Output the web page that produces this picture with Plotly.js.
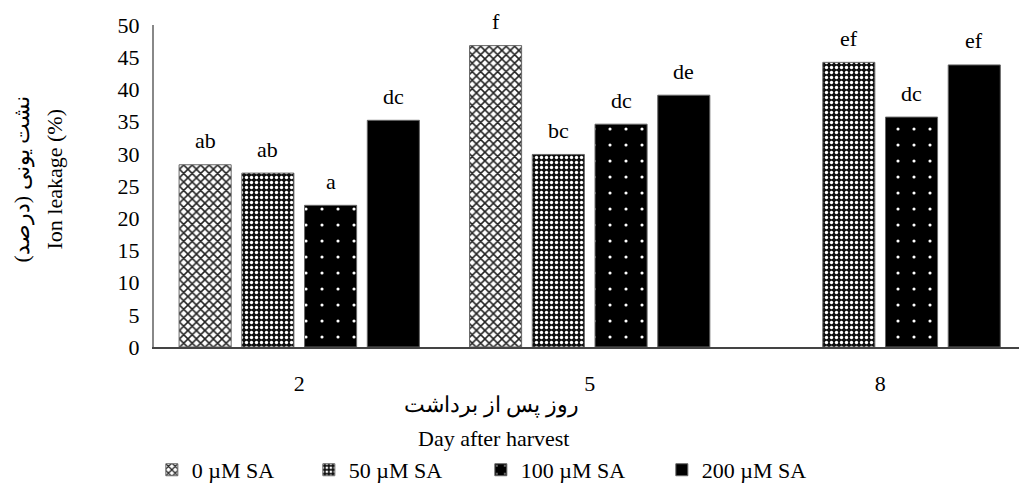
<!DOCTYPE html>
<html>
<head>
<meta charset="utf-8">
<script src="https://cdn.plot.ly/plotly-3.0.1.min.js"></script>
<style>html,body{margin:0;padding:0;background:#fff;}#chart{width:1019px;height:488px;}</style>
</head>
<body>
<div id="chart"></div>
<script>
const days = ["2", "5", "8"];
const seriesNames = ["0 µM SA", "50 µM SA", "100 µM SA", "200 µM SA"];
const sa0 = [28.3, 46.8, null];
const sa50 = [27.0, 29.9, 44.2];
const sa100 = [22.0, 34.6, 35.7];
const sa200 = [35.2, 39.1, 43.8];
const letters0 = ["ab", "f", ""];
const letters50 = ["ab", "bc", "ef"];
const letters100 = ["a", "dc", "dc"];
const letters200 = ["dc", "de", "ef"];

const serif = "Liberation Serif, Times New Roman, serif";
const FS = 22;
const values = [sa0, sa50, sa100, sa200];
const letters = [letters0, letters50, letters100, letters200];
const patterns = [
  {shape: "x", fgcolor: "#222", bgcolor: "#fff", size: 6, solidity: 0.45},
  {shape: ".", fgcolor: "#fff", bgcolor: "#111", size: 5, solidity: 0.35},
  {shape: ".", fgcolor: "#fff", bgcolor: "#000", size: 16, solidity: 0.03},
  null
];
const legendWidths = [112, 127, 136, 130];
const bargap = 0.136;
const nSeries = values.length;

const traces = values.map((v, i) => {
  const t = {
    type: "bar",
    name: seriesNames[i],
    x: days,
    y: v,
    legendwidth: legendWidths[i],
    marker: {color: "#000", line: {color: "#666", width: 1}}
  };
  if (patterns[i]) t.marker.pattern = Object.assign({fillmode: "replace"}, patterns[i]);
  return t;
});

// significance letters above each bar, placed at each bar's slot in the group
const slot = (1 - bargap) / nSeries;
const letterAnnotations = [];
values.forEach((v, i) => {
  v.forEach((val, j) => {
    if (val === null || !letters[i][j]) return;
    letterAnnotations.push({
      text: letters[i][j], xref: "x", yref: "y",
      x: j + (i - (nSeries - 1) / 2) * slot, y: val,
      xanchor: "center", yanchor: "middle", yshift: 24,
      showarrow: false, font: {family: serif, size: FS, color: "#000"}
    });
  });
});

const layout = {
  width: 1019, height: 488,
  margin: {l: 154, r: 0, t: 25, b: 141},
  paper_bgcolor: "#fff", plot_bgcolor: "#fff",
  font: {family: serif, size: FS, color: "#000"},
  barmode: "group",
  bargap: bargap,
  bargroupgap: 0.17,
  showlegend: true,
  legend: {orientation: "h", xref: "container", yref: "container",
           x: 0.149, xanchor: "left", y: 0.037, yanchor: "middle",
           font: {family: serif, size: FS, color: "#000"}, itemwidth: 30, tracegroupgap: 0},
  xaxis: {type: "category", range: [-0.5, 2.478], showline: true, linecolor: "#444", linewidth: 2,
          ticks: "", showgrid: false, zeroline: false, tickfont: {family: serif, size: FS},
          ticklabelstandoff: 16},
  yaxis: {range: [0, 50], dtick: 5, showline: true, linecolor: "#888", linewidth: 2,
          ticks: "", showgrid: false, zeroline: false, tickfont: {family: serif, size: FS},
          ticklabelstandoff: 8},
  annotations: letterAnnotations.concat([
    {text: "نشت یونی (درصد)", xref: "paper", yref: "paper", x: -0.1526, y: 0.52,
     xanchor: "center", yanchor: "middle",
     textangle: -90, showarrow: false, font: {family: serif, size: FS}},
    {text: "Ion leakage (%)", xref: "paper", yref: "paper", x: -0.1145, y: 0.52,
     xanchor: "center", yanchor: "middle",
     textangle: -90, showarrow: false, font: {family: serif, size: FS}},
    {text: "روز پس از برداشت", xref: "paper", yref: "paper", x: 0.3896, y: -0.18,
     xanchor: "center", yanchor: "middle", showarrow: false, font: {family: serif, size: FS}},
    {text: "Day after harvest", xref: "paper", yref: "paper", x: 0.393, y: -0.283,
     xanchor: "center", yanchor: "middle", showarrow: false, font: {family: serif, size: FS}}
  ])
};

Plotly.newPlot("chart", traces, layout, {displayModeBar: false, staticPlot: true});
</script>
</body>
</html>
